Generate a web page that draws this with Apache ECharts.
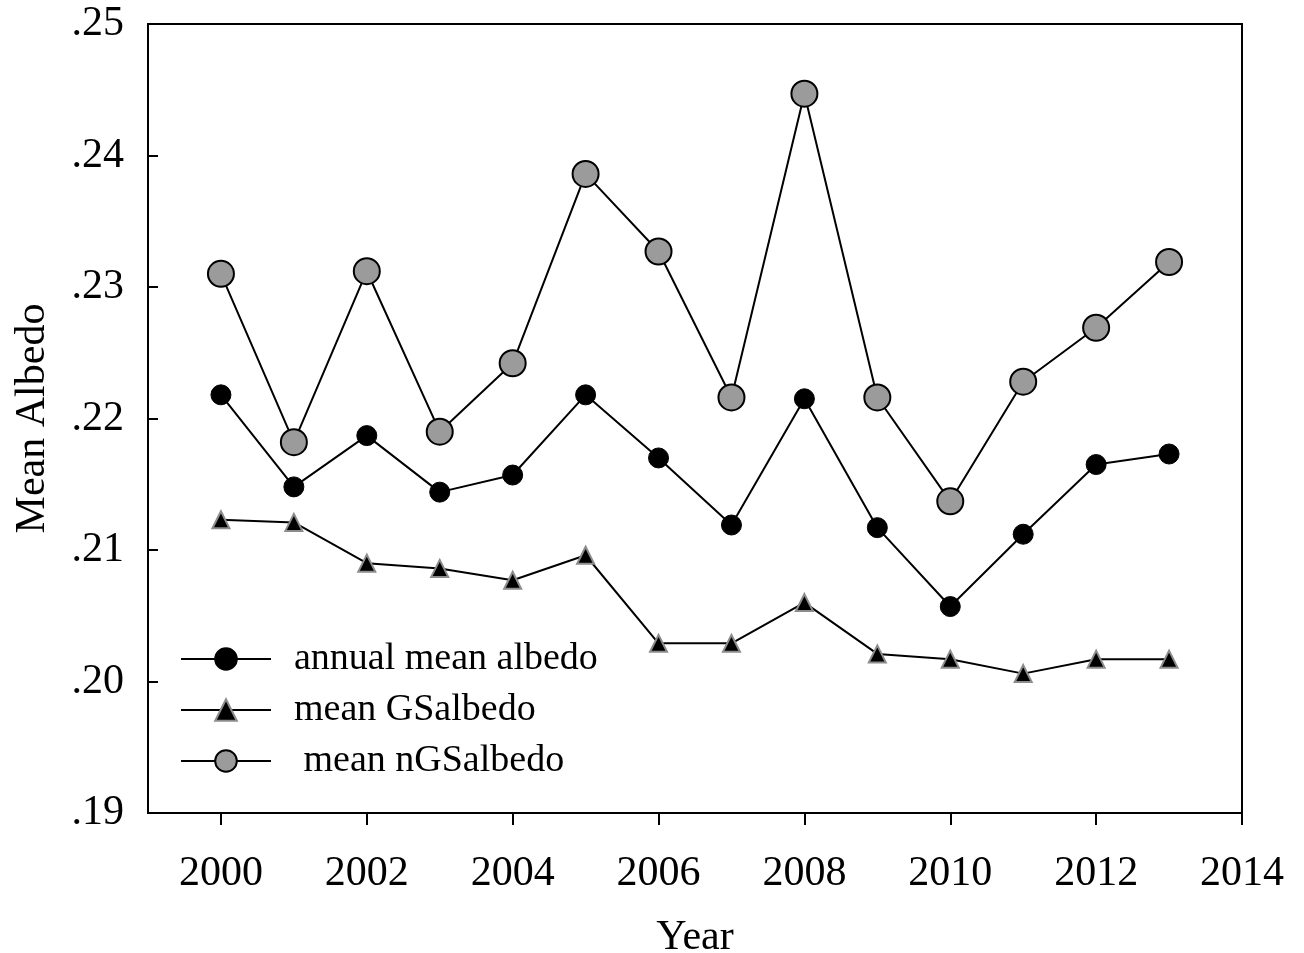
<!DOCTYPE html>
<html>
<head>
<meta charset="utf-8">
<script src="https://cdn.jsdelivr.net/npm/echarts@6/dist/echarts.min.js"></script>
<style>
  html, body { margin: 0; padding: 0; background: #fff; }
  #chart { width: 1304px; height: 953px; }
</style>
</head>
<body>
<div id="chart"></div>
<script>
// Years and yearly mean albedo values
const years = [2000, 2001, 2002, 2003, 2004, 2005, 2006, 2007, 2008, 2009, 2010, 2011, 2012, 2013];
const annualMean = [0.2218, 0.2148, 0.2187, 0.2144, 0.2157, 0.2218, 0.2170, 0.2119, 0.2215, 0.2117, 0.2057, 0.2112, 0.2165, 0.2173];
const meanGS = [0.2123, 0.2121, 0.2090, 0.2086, 0.2077, 0.2096, 0.2029, 0.2029, 0.2060, 0.2021, 0.2017, 0.2006, 0.2017, 0.2017];
const meanNGS = [0.2310, 0.2182, 0.2312, 0.2190, 0.2242, 0.2386, 0.2327, 0.2216, 0.2447, 0.2216, 0.2137, 0.2228, 0.2269, 0.2319];
const xTicks = [2000, 2002, 2004, 2006, 2008, 2010, 2012, 2014];
const seriesNames = ['annual mean albedo', 'mean GSalbedo', ' mean nGSalbedo'];

const FONT = '"Liberation Serif", "Times New Roman", serif';
const pairs = vals => years.map((y, i) => [y, vals[i]]);

const chart = echarts.init(document.getElementById('chart'), null, { renderer: 'canvas' });
chart.setOption({
  animation: false,
  backgroundColor: '#fff',
  textStyle: { fontFamily: FONT, color: '#000' },
  grid: {
    left: 148, right: 62, top: 24, bottom: 140,
    outerBoundsMode: 'none',
    containLabel: false,
    show: true, borderColor: '#000', borderWidth: 2, backgroundColor: 'transparent'
  },
  legend: {
    orient: 'vertical',
    left: 180, top: 640,
    padding: 0,
    itemWidth: 90, itemHeight: 27,
    itemGap: 13,
    textStyle: { fontFamily: FONT, fontSize: 38, color: '#000', lineHeight: 30, padding: [0, 0, 0, 18] },
    data: seriesNames
  },
  xAxis: {
    type: 'value',
    min: 1999, max: 2014,
    name: 'Year',
    nameLocation: 'middle',
    nameGap: 104,
    nameTextStyle: { fontFamily: FONT, fontSize: 42, color: '#000' },
    axisLine: { show: true, lineStyle: { color: '#000', width: 2 } },
    axisTick: { show: true, inside: false, length: 12, lineStyle: { color: '#000', width: 2 }, customValues: xTicks },
    axisLabel: { fontFamily: FONT, fontSize: 42, color: '#000', margin: 40, customValues: xTicks, formatter: v => String(v) },
    splitLine: { show: false }
  },
  yAxis: {
    type: 'value',
    min: 0.19, max: 0.25, interval: 0.01,
    name: 'Mean Albedo',
    nameLocation: 'middle',
    nameGap: 94,
    nameRotate: 90,
    nameTextStyle: { fontFamily: FONT, fontSize: 42, color: '#000' },
    axisLine: { show: true, lineStyle: { color: '#000', width: 2 } },
    axisTick: { show: true, inside: true, length: 10, lineStyle: { color: '#000', width: 2 } },
    axisLabel: {
      fontFamily: FONT, fontSize: 42, color: '#000', margin: 24,
      formatter: v => v.toFixed(2).replace(/^0/, '')
    },
    splitLine: { show: false }
  },
  series: [
    {
      name: seriesNames[0],
      type: 'line',
      data: pairs(annualMean),
      symbol: 'circle',
      symbolSize: 20,
      lineStyle: { color: '#000', width: 2 },
      itemStyle: { color: '#000', borderColor: '#000', borderWidth: 1 },
      z: 3
    },
    {
      name: seriesNames[1],
      type: 'line',
      data: pairs(meanGS),
      symbol: 'triangle',
      symbolSize: 17,
      lineStyle: { color: '#000', width: 2 },
      itemStyle: { color: '#000', borderColor: '#8c8c8c', borderWidth: 2 },
      z: 2
    },
    {
      name: seriesNames[2],
      type: 'line',
      data: pairs(meanNGS),
      symbol: 'circle',
      symbolSize: 26,
      lineStyle: { color: '#000', width: 2 },
      itemStyle: { color: '#9b9b9b', borderColor: '#000', borderWidth: 2 },
      z: 4
    }
  ]
});
</script>
</body>
</html>
